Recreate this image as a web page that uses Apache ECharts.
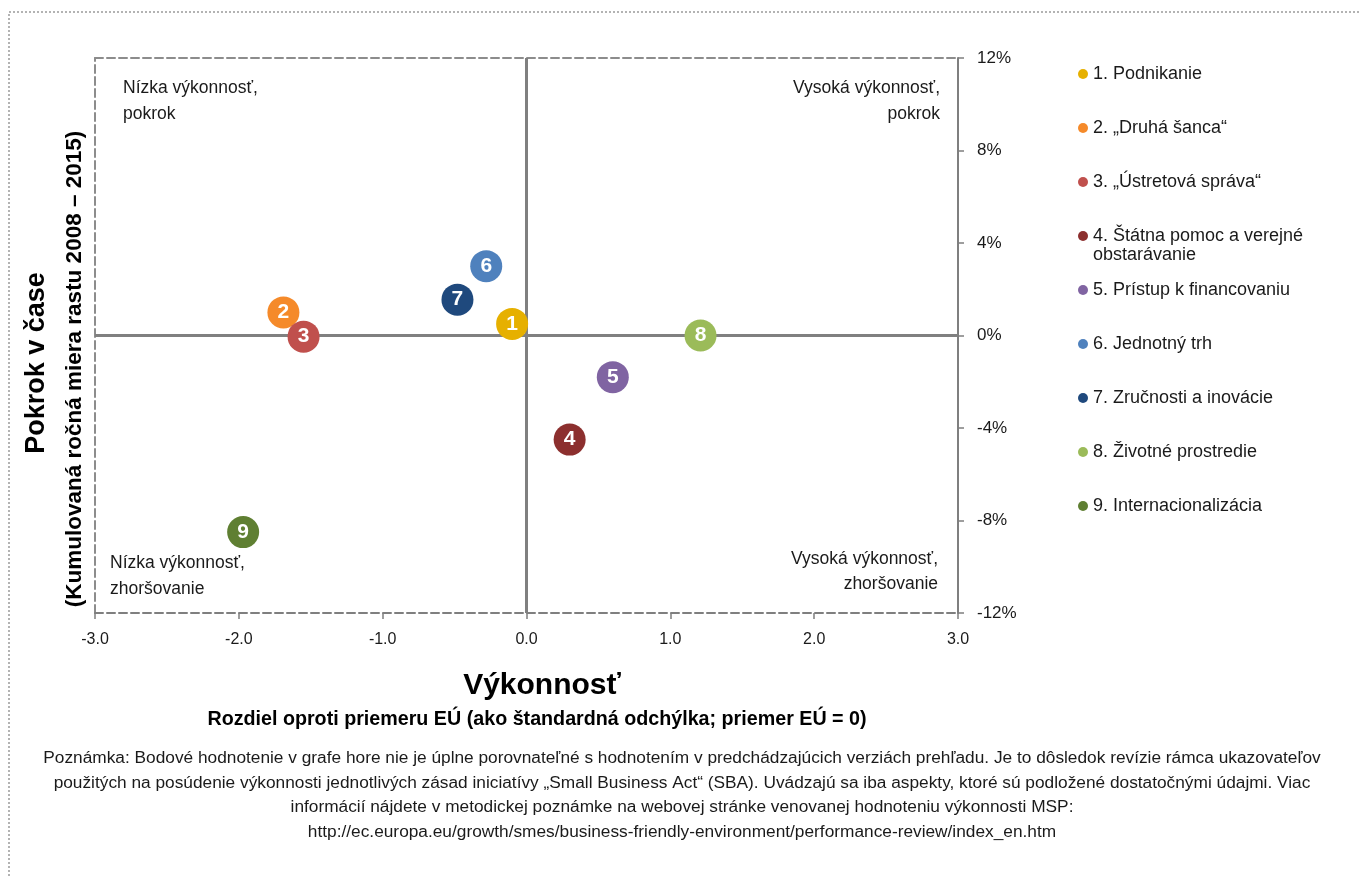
<!DOCTYPE html>
<html>
<head>
<meta charset="utf-8">
<script src="https://cdn.jsdelivr.net/npm/echarts@6/dist/echarts.min.js"></script>
<style>
  html, body { margin: 0; padding: 0; background: #fff; }
  #chart { width: 1359px; height: 876px; }
</style>
</head>
<body>
<div id="chart"></div>
<script>
// SBA principles: performance (x, std dev from EU avg) vs progress (y, % growth 2008-2015)
var names = [
  '1. Podnikanie',
  '2. „Druhá šanca“',
  '3. „Ústretová správa“',
  '4. Štátna pomoc a verejné obstarávanie',
  '5. Prístup k financovaniu',
  '6. Jednotný trh',
  '7. Zručnosti a inovácie',
  '8. Životné prostredie',
  '9. Internacionalizácia'
];
var shortLabels = ['1', '2', '3', '4', '5', '6', '7', '8', '9'];
var performance = [-0.10, -1.69, -1.55, 0.30, 0.60, -0.28, -0.48, 1.21, -1.97];
var progress = [0.5, 1.0, -0.05, -4.5, -1.8, 3.0, 1.55, 0.0, -8.5];
var colors = ['#E6B000', '#F58A2A', '#C0504D', '#8C2F2E', '#8064A2', '#4F81BD', '#1F497D', '#9BBB59', '#5F7F32'];

var FONT = "'Liberation Sans', Arial, sans-serif";
var myChart = echarts.init(document.getElementById('chart'));

var series = names.map(function (n, i) {
  var s = {
    name: n,
    type: 'scatter',
    symbolSize: 32,
    itemStyle: { color: colors[i], opacity: 1 },
    label: {
      show: true,
      position: 'inside',
      formatter: shortLabels[i],
      color: '#fff',
      fontFamily: FONT,
      fontSize: 21,
      fontWeight: 'bold'
    },
    data: [[performance[i], progress[i]]],
    z: 5
  };
  if (i === 0) {
    s.markLine = {
      silent: true,
      symbol: 'none',
      label: { show: false },
      lineStyle: { color: '#808080', width: 3, type: 'solid' },
      data: [{ xAxis: 0 }, { yAxis: 0 }],
      z: 1
    };
  }
  return s;
});

// one legend block per entry so every row keeps the same pitch
var legends = names.map(function (n, i) {
  return {
    orient: 'vertical',
    left: 1073,
    top: 60 + i * 54,
    itemWidth: 10,
    itemHeight: 10,
    itemGap: 0,
    icon: 'circle',
    data: [n],
    formatter: function (name) {
      // long entry wraps; second line is drawn below as a plain text
      return i === 3 ? '4. Štátna pomoc a verejné' : name;
    },
    textStyle: { fontFamily: FONT, fontSize: 18, color: '#1a1a1a' },
    selectedMode: false
  };
});

var option = {
  animation: false,
  backgroundColor: '#fff',
  color: colors,
  grid: { left: 95, right: 401, top: 58, bottom: 263 },
  legend: legends,
  xAxis: [{
    type: 'value',
    min: -3, max: 3, interval: 1,
    position: 'bottom',
    axisLine: { show: true, onZero: false, lineStyle: { color: '#7f7f7f', width: 2, type: 'dashed' } },
    axisTick: { show: true, length: 6, lineStyle: { color: '#7f7f7f', width: 1.5 } },
    axisLabel: {
      margin: 19,
      fontFamily: FONT, fontSize: 16, color: '#1a1a1a',
      formatter: function (v) { return v.toFixed(1); }
    },
    splitLine: { show: false }
  }, {
    type: 'value',
    min: -3, max: 3, interval: 1,
    position: 'top',
    axisLine: { show: true, onZero: false, lineStyle: { color: '#8c8c8c', width: 2, type: 'dashed' } },
    axisTick: { show: false },
    axisLabel: { show: false },
    splitLine: { show: false }
  }],
  yAxis: [{
    type: 'value',
    min: -12, max: 12, interval: 4,
    position: 'right',
    axisLine: { show: true, onZero: false, lineStyle: { color: '#7f7f7f', width: 2 } },
    axisTick: { show: true, length: 6, lineStyle: { color: '#7f7f7f', width: 1.5 } },
    axisLabel: {
      margin: 19,
      fontFamily: FONT, fontSize: 17, color: '#1a1a1a',
      formatter: function (v) { return v + '%'; }
    },
    splitLine: { show: false }
  }, {
    type: 'value',
    min: -12, max: 12, interval: 4,
    position: 'left',
    axisLine: { show: true, onZero: false, lineStyle: { color: '#8c8c8c', width: 2, type: 'dashed' } },
    axisTick: { show: false },
    axisLabel: { show: false },
    splitLine: { show: false }
  }],
  graphic: [
    {
      type: 'rect', silent: true, z: 0,
      shape: { x: 9, y: 12, width: 1400, height: 900 },
      style: { fill: 'none', stroke: '#9a9a9a', lineWidth: 1.5, lineDash: [2, 2] }
    },
    {
      type: 'text', x: 1093, y: 246,
      style: { text: 'obstarávanie', font: '18px ' + FONT, fill: '#1a1a1a' }
    },
    {
      type: 'text', x: 123, y: 75,
      style: { text: 'Nízka výkonnosť,\npokrok', font: '17.5px ' + FONT, fill: '#1a1a1a', lineHeight: 26 }
    },
    {
      type: 'text', x: 940, y: 75,
      style: { text: 'Vysoká výkonnosť,\npokrok', font: '17.5px ' + FONT, fill: '#1a1a1a', lineHeight: 26, align: 'right' }
    },
    {
      type: 'text', x: 110, y: 550,
      style: { text: 'Nízka výkonnosť,\nzhoršovanie', font: '17.5px ' + FONT, fill: '#1a1a1a', lineHeight: 26 }
    },
    {
      type: 'text', x: 938, y: 547,
      style: { text: 'Vysoká výkonnosť,\nzhoršovanie', font: '17.5px ' + FONT, fill: '#1a1a1a', lineHeight: 25, align: 'right' }
    },
    {
      type: 'text', x: 37, y: 363, rotation: Math.PI / 2,
      style: { text: 'Pokrok v čase', font: 'bold 27px ' + FONT, fill: '#000', align: 'center', verticalAlign: 'middle' }
    },
    {
      type: 'text', x: 75, y: 369, rotation: Math.PI / 2,
      style: { text: '(Kumulovaná ročná miera rastu 2008 – 2015)', font: 'bold 22.5px ' + FONT, fill: '#000', align: 'center', verticalAlign: 'middle' }
    },
    {
      type: 'text', x: 542, y: 686,
      style: { text: 'Výkonnosť', font: 'bold 30px ' + FONT, fill: '#000', align: 'center', verticalAlign: 'middle' }
    },
    {
      type: 'text', x: 537, y: 720,
      style: { text: 'Rozdiel oproti priemeru EÚ (ako štandardná odchýlka; priemer EÚ = 0)', font: 'bold 19.7px ' + FONT, fill: '#000', align: 'center', verticalAlign: 'middle' }
    },
    {
      type: 'text', x: 682, y: 746,
      style: {
        text: 'Poznámka: Bodové hodnotenie v grafe hore nie je úplne porovnateľné s hodnotením v predchádzajúcich verziách prehľadu. Je to dôsledok revízie rámca ukazovateľov\n' +
              'použitých na posúdenie výkonnosti jednotlivých zásad iniciatívy „Small Business Act“ (SBA). Uvádzajú sa iba aspekty, ktoré sú podložené dostatočnými údajmi. Viac\n' +
              'informácií nájdete v metodickej poznámke na webovej stránke venovanej hodnoteniu výkonnosti MSP:\n' +
              'http://ec.europa.eu/growth/smes/business-friendly-environment/performance-review/index_en.htm',
        font: '17.3px ' + FONT, fill: '#1a1a1a', align: 'center', lineHeight: 24.5
      }
    }
  ],
  series: series
};
myChart.setOption(option);
</script>
</body>
</html>
